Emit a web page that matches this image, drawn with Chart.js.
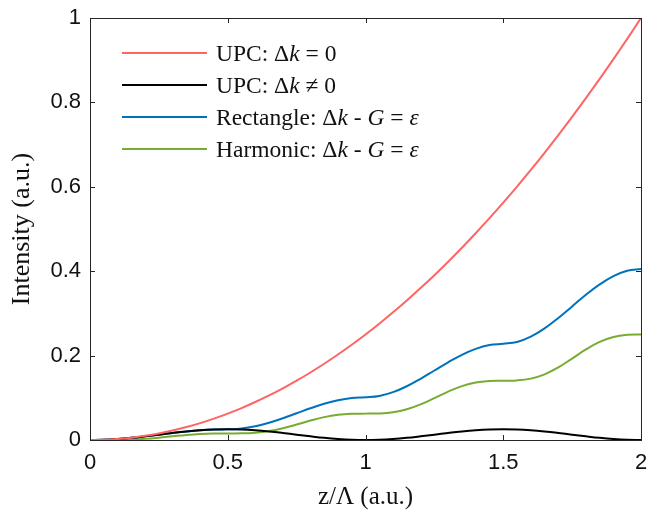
<!DOCTYPE html>
<html>
<head>
<meta charset="utf-8">
<script src="https://cdn.jsdelivr.net/npm/chart.js@4.4.1/dist/chart.umd.min.js"></script>
<style>
  body { margin: 0; background: #fff; }
  #wrap { position: relative; width: 647px; height: 513px; }
  #chart { position: absolute; left: 0; top: 0; }
  .leg-row {
    position: absolute; left: 122px; height: 32px;
    display: flex; align-items: center; white-space: nowrap;
    font-family: "Liberation Serif", "Times New Roman", serif;
    font-size: 23.5px; color: #111;
  }
  .leg-line { display: inline-block; width: 85px; height: 2px; margin-right: 9px; }
</style>
</head>
<body>
<div id="wrap">
  <canvas id="chart" width="647" height="513"></canvas>
  <div id="legend"></div>
</div>
<script>
// posição ao longo do eixo z/Λ
const zVals = [0, 0.05, 0.1, 0.15, 0.2, 0.25, 0.3, 0.35, 0.4, 0.45, 0.5,
    0.55, 0.6, 0.65, 0.7, 0.75, 0.8, 0.85, 0.9, 0.95, 1,
    1.05, 1.1, 1.15, 1.2, 1.25, 1.3, 1.35, 1.4, 1.45, 1.5,
    1.55, 1.6, 1.65, 1.7, 1.75, 1.8, 1.85, 1.9, 1.95, 2];

// UPC: Δk = 0
const upcMatched = [0, 0.0006, 0.0025, 0.0056, 0.01, 0.0156, 0.0225, 0.0306, 0.04, 0.0506, 0.0625,
    0.0756, 0.09, 0.1056, 0.1225, 0.1406, 0.16, 0.1806, 0.2025, 0.2256, 0.25,
    0.2756, 0.3025, 0.3306, 0.36, 0.3906, 0.4225, 0.4556, 0.49, 0.5256, 0.5625,
    0.6006, 0.64, 0.6806, 0.7225, 0.7656, 0.81, 0.8556, 0.9025, 0.9506, 1];

// UPC: Δk ≠ 0
const upcMismatch = [0, 0.0006, 0.0024, 0.0052, 0.0088, 0.0127, 0.0166, 0.0201, 0.0229, 0.0247, 0.0253,
    0.0247, 0.0229, 0.0201, 0.0166, 0.0127, 0.0088, 0.0052, 0.0024, 0.0006, 0,
    0.0006, 0.0024, 0.0052, 0.0088, 0.0127, 0.0166, 0.0201, 0.0229, 0.0247, 0.0253,
    0.0247, 0.0229, 0.0201, 0.0166, 0.0127, 0.0088, 0.0052, 0.0024, 0.0006, 0];

// Rectangle: Δk - G = ε
const rectangle = [0, 0.0006, 0.0024, 0.0052, 0.0088, 0.0127, 0.0166, 0.0201, 0.0229, 0.0247, 0.0253,
    0.0272, 0.0326, 0.041, 0.0516, 0.0633, 0.0751, 0.0857, 0.0941, 0.0995, 0.1013,
    0.1044, 0.1134, 0.1274, 0.1451, 0.1647, 0.1842, 0.2019, 0.2159, 0.2249, 0.228,
    0.2323, 0.2449, 0.2645, 0.2892, 0.3166, 0.344, 0.3687, 0.3884, 0.401, 0.4053];

// Harmonic: Δk - G = ε
const harmonic = [0, 0.00002, 0.0002, 0.001, 0.0028, 0.0055, 0.0088, 0.012, 0.0143, 0.0154, 0.0156,
    0.0158, 0.0174, 0.0213, 0.028, 0.0367, 0.0461, 0.0542, 0.0597, 0.0621, 0.0625,
    0.0629, 0.0658, 0.0728, 0.0844, 0.0992, 0.1147, 0.1277, 0.1363, 0.14, 0.1406,
    0.1412, 0.1454, 0.1556, 0.1721, 0.193, 0.2145, 0.2324, 0.2441, 0.2492, 0.25];

const seriesLabels = ['UPC: Δk = 0', 'UPC: Δk ≠ 0', 'Rectangle: Δk - G = ε', 'Harmonic: Δk - G = ε'];
const seriesColors = ['#ff6464', '#000000', '#0072bd', '#77ac30'];

const xTicks = [0, 0.5, 1, 1.5, 2];
const xTickLabels = ['0', '0.5', '1', '1.5', '2'];
const yTicks = [0, 0.2, 0.4, 0.6, 0.8, 1];
const yTickLabels = ['0', '0.2', '0.4', '0.6', '0.8', '1'];

const axisColor = '#262626';

function toPoints(values) {
    return zVals.map((z, i) => ({ x: z, y: values[i] }));
}

// Caixa fechada e ticks para dentro (estilo MATLAB)
const boxPlugin = {
    id: 'boxTicks',
    afterDatasetsDraw(chart) {
        const { ctx, chartArea: a, scales: { x, y } } = chart;
        const len = 5;
        ctx.save();
        ctx.strokeStyle = axisColor;
        ctx.lineWidth = 1;
        ctx.beginPath();
        xTicks.forEach(v => {
            const px = Math.round(x.getPixelForValue(v)) + 0.5;
            ctx.moveTo(px, a.bottom); ctx.lineTo(px, a.bottom - len);
            ctx.moveTo(px, a.top); ctx.lineTo(px, a.top + len);
        });
        yTicks.forEach(v => {
            const py = Math.round(y.getPixelForValue(v)) + 0.5;
            ctx.moveTo(a.left, py); ctx.lineTo(a.left + len, py);
            ctx.moveTo(a.right, py); ctx.lineTo(a.right - len, py);
        });
        ctx.stroke();
        ctx.strokeRect(Math.round(a.left) + 0.5, Math.round(a.top) + 0.5,
            Math.round(a.right - a.left), Math.round(a.bottom - a.top));
        ctx.restore();
    }
};

const chart = new Chart(document.getElementById('chart'), {
    type: 'line',
    data: {
        datasets: [upcMatched, upcMismatch, rectangle, harmonic].map((vals, i) => ({
            label: seriesLabels[i],
            data: toPoints(vals),
            borderColor: seriesColors[i],
            borderWidth: 2,
            pointRadius: 0,
            tension: 0.4,
            fill: false
        }))
    },
    options: {
        responsive: false,
        animation: false,
        devicePixelRatio: 1,
        layout: { padding: { left: 0, right: 6, top: 18, bottom: 0 } },
        plugins: {
            legend: { display: false },
            tooltip: { enabled: false }
        },
        scales: {
            x: {
                type: 'linear',
                min: 0, max: 2,
                grid: { display: false, drawTicks: false },
                border: { display: false },
                afterBuildTicks: s => { s.ticks = xTicks.map(v => ({ value: v })); },
                afterFit: s => { s.height = 73; s.paddingLeft = 0; s.paddingRight = 0; },
                ticks: {
                    padding: 10,
                    maxRotation: 0,
                    color: '#111',
                    font: { family: '"Liberation Sans", Arial, sans-serif', size: 22 },
                    callback: (v, i) => xTickLabels[i]
                },
                title: {
                    display: true,
                    text: 'z/Λ (a.u.)',
                    color: '#111',
                    padding: { top: 0, bottom: 1 },
                    font: { family: '"Liberation Serif", "Times New Roman", serif', size: 25 }
                }
            },
            y: {
                type: 'linear',
                min: 0, max: 1,
                grid: { display: false, drawTicks: false },
                border: { display: false },
                afterBuildTicks: s => { s.ticks = yTicks.map(v => ({ value: v })); },
                afterFit: s => { s.width = 90; s.paddingTop = 0; s.paddingBottom = 0; },
                ticks: {
                    padding: 9,
                    color: '#111',
                    font: { family: '"Liberation Sans", Arial, sans-serif', size: 22 },
                    callback: (v, i) => yTickLabels[i]
                },
                title: {
                    display: true,
                    text: 'Intensity (a.u.)',
                    color: '#111',
                    padding: { top: 7, bottom: 0 },
                    font: { family: '"Liberation Serif", "Times New Roman", serif', size: 26 }
                }
            }
        }
    },
    plugins: [boxPlugin]
});

// Legenda em HTML (para poder pôr k, G e ε em itálico)
function fmtLabel(txt) {
    return txt.replace('Δk', 'Δ<i>k</i>').replace(' G ', ' <i>G</i> ').replace('ε', '<i>ε</i>');
}

const legendEl = document.getElementById('legend');
const legendRowY = [53, 85, 117, 149];
seriesLabels.forEach((lbl, i) => {
    const row = document.createElement('div');
    row.className = 'leg-row';
    row.style.top = (legendRowY[i] - 16) + 'px';
    row.innerHTML = `<span class="leg-line" style="background:${seriesColors[i]}"></span><span>${fmtLabel(lbl)}</span>`;
    legendEl.appendChild(row);
});
</script>
</body>
</html>
